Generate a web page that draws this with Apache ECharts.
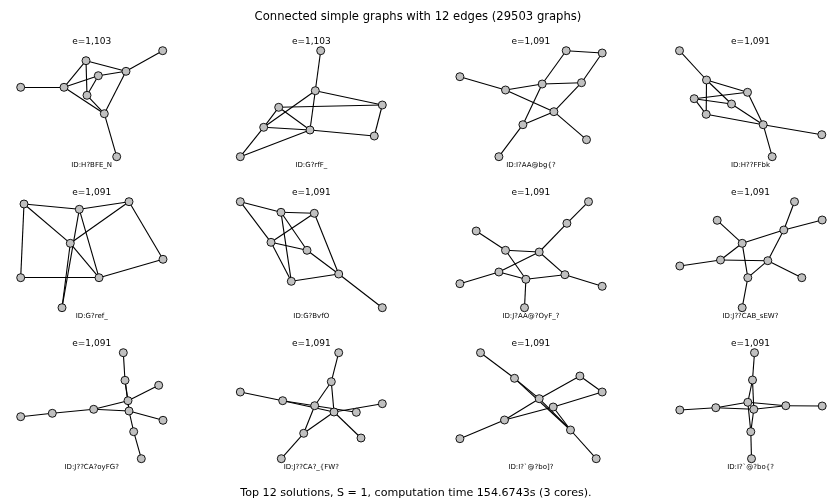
<!DOCTYPE html>
<html><head><meta charset="utf-8">
<script src="https://cdn.jsdelivr.net/npm/echarts@6/dist/echarts.min.js"></script>
<style>html,body{margin:0;padding:0;background:#fff}#c{width:834px;height:500px}</style>
</head><body><div id="c"></div>
<script>
const mainTitle = 'Connected simple graphs with 12 edges (29503 graphs)';
const footer = 'Top 12 solutions, S = 1, computation time 154.6743s (3 cores).';
const energies = ['e=1,103','e=1,103','e=1,091','e=1,091','e=1,091','e=1,091','e=1,091','e=1,091','e=1,091','e=1,091','e=1,091','e=1,091'];
const graphIds = ['ID:H?BFE_N','ID:G?rfF_','ID:I?AA@bg{?','ID:H??FFbk','ID:G?ref_','ID:G?BvfO','ID:J?AA@?OyF_?','ID:J??CAB_sEW?','ID:J??CA?oyFG?','ID:J??CA?_{FW?','ID:I?`@?bo]?','ID:I?`@?bo{?'];

// node layout coordinates (layout units, y downward) and edges (letter pairs)
const nodes1 = [[0,36.6],[43.3,36.6],[65.3,10],[77.6,25],[105.3,20.6],[142,0],[66.3,44.6],[83.6,63],[96,106]];
const edges1 = ['AB','BC','BD','BH','CE','CG','DE','DG','GH','EH','EF','HI'];
const nodes2 = [[80.4,0],[75,40],[142,54.3],[38.4,56.6],[23.4,76.6],[69.7,79.3],[134,85.3],[0,106]];
const edges2 = ['AB','BC','BE','BF','DC','DE','DF','EF','EH','HF','FG','GC'];
const nodes3 = [[106.3,0],[142.3,2.3],[0,26],[45.6,39.3],[82.3,33.3],[121.6,32],[94,61],[63,74],[126.6,89],[39,106]];
const edges3 = ['CD','DE','EF','AB','BF','DG','FG','GH','GI','HJ','AE','EH'];
const nodes4 = [[0,0],[27,29.3],[68,41.6],[14.7,48],[52,53.3],[26.7,63.6],[83.7,74],[142.3,84],[92.7,106]];
const edges4 = ['AB','BC','BF','BE','DC','DE','DF','FG','EG','CG','GH','GI'];
const nodes5 = [[3.3,2.3],[58.6,7.6],[108.3,0],[49.6,41.6],[142.3,57.6],[0,76],[78.3,76],[41.3,106]];
const edges5 = ['AB','BC','AF','AD','CD','CE','EG','FG','DG','BG','BH','DH'];
const nodes6 = [[0,0],[40.7,10.6],[74,11.6],[30.7,40.6],[66.7,48.6],[98.4,72.3],[51,79.6],[142,106]];
const edges6 = ['AB','AD','BC','BG','BE','CD','CF','DE','DG','EF','GF','FH'];
const nodes7 = [[128.6,0],[107,21.6],[16.3,29.3],[45.6,48.6],[79.3,50.3],[39,70.3],[105,73],[0,82],[66,77.6],[142.3,84.6],[64.6,106]];
const edges7 = ['AB','BE','CD','DE','DI','EF','EG','FH','FI','IG','GJ','IK'];
const nodes8 = [[115,0],[37.7,18.6],[142.7,18.3],[104.3,28.3],[62.7,41.6],[0.3,64.3],[41,58.3],[88.3,59],[68.3,76],[122.3,76],[62.7,106]];
const edges8 = ['AD','CD','DE','DH','BE','EG','EI','FG','GH','HI','HJ','IK'];
const nodes9 = [[102.6,0],[104.3,27.6],[138,32.6],[107.3,48],[73,56.6],[108.3,58.3],[31.6,60.6],[0,64],[142.3,67.6],[113,79],[120.6,106]];
const edges9 = ['AB','BD','BF','CD','DE','DF','EF','EG','GH','FI','FJ','JK'];
const nodes10 = [[98.4,0],[91,29],[0,39.3],[42.4,48],[142,51],[74.4,53],[116,59.6],[93.7,59.3],[63.4,80.6],[120.7,85.3],[41,106]];
const edges10 = ['AB','BF','BH','CD','DF','DH','FG','HE','HJ','FI','HI','IK'];
const nodes11 = [[20.6,0],[54.6,25.6],[120,23.3],[142.3,39.3],[79.3,46],[93.3,54.3],[44.6,67.3],[110.6,77.3],[0,86],[136.3,106]];
const edges11 = ['AB','BE','BH','CE','CD','DF','FG','EG','GI','EH','FH','HJ'];
const nodes12 = [[75,0],[73,27.3],[0.3,57.3],[36.3,55],[68.3,49.6],[74.3,56.6],[106.3,53],[142.7,53.3],[71.3,79],[72,106]];
const edges12 = ['AB','BE','BF','CD','DE','DF','EG','FG','GH','EI','FI','IJ'];

const allNodes = [nodes1,nodes2,nodes3,nodes4,nodes5,nodes6,nodes7,nodes8,nodes9,nodes10,nodes11,nodes12];
const allEdges = [edges1,edges2,edges3,edges4,edges5,edges6,edges7,edges8,edges9,edges10,edges11,edges12];

// panel layout
const boxW = 142, boxH = 106;
const col0 = 20.7, colStep = 219.6, row0 = 50.7, rowStep = 151;

const grids = [], xAxes = [], yAxes = [], series = [], graphics = [];
const idx = ch => ch.charCodeAt(0) - 65;
for (let k = 0; k < 12; k++) {
  const r = Math.floor(k / 4), c = k % 4;
  const left = col0 + colStep * c, top = row0 + rowStep * r;
  grids.push({left: left, top: top, width: boxW, height: boxH, containLabel: false});
  xAxes.push({type: 'value', gridIndex: k, min: 0, max: boxW, show: false});
  yAxes.push({type: 'value', gridIndex: k, min: 0, max: boxH, inverse: true, show: false});
  series.push({
    type: 'graph', coordinateSystem: 'cartesian2d', xAxisIndex: k, yAxisIndex: k,
    symbol: 'circle', symbolSize: 8,
    itemStyle: {color: '#c0c0c0', borderColor: '#000', borderWidth: 0.9},
    lineStyle: {color: '#000', width: 1.1, opacity: 1, curveness: 0},
    label: {show: false}, emphasis: {disabled: true},
    data: allNodes[k].map(p => ({value: p})),
    links: allEdges[k].map(e => ({source: idx(e[0]), target: idx(e[1])}))
  });
  graphics.push({type: 'text', x: left + boxW / 2, y: top - 9.5, style: {text: energies[k], font: '9px "DejaVu Sans"', fill: '#000', textAlign: 'center', textVerticalAlign: 'middle'}});
  graphics.push({type: 'text', x: left + boxW / 2, y: top + boxH + 8, style: {text: graphIds[k], font: '7px "DejaVu Sans"', fill: '#000', textAlign: 'center', textVerticalAlign: 'middle'}});
}
graphics.push({type: 'text', x: 418, y: 17, style: {text: mainTitle, font: '11.6px "DejaVu Sans"', fill: '#000', textAlign: 'center', textVerticalAlign: 'middle'}});
graphics.push({type: 'text', x: 416, y: 493, style: {text: footer, font: '11.1px "DejaVu Sans"', fill: '#000', textAlign: 'center', textVerticalAlign: 'middle'}});

const chart = echarts.init(document.getElementById('c'), null, {renderer: 'canvas'});
chart.setOption({
  animation: false,
  backgroundColor: '#fff',
  grid: grids, xAxis: xAxes, yAxis: yAxes, series: series, graphic: graphics
});
</script></body></html>
